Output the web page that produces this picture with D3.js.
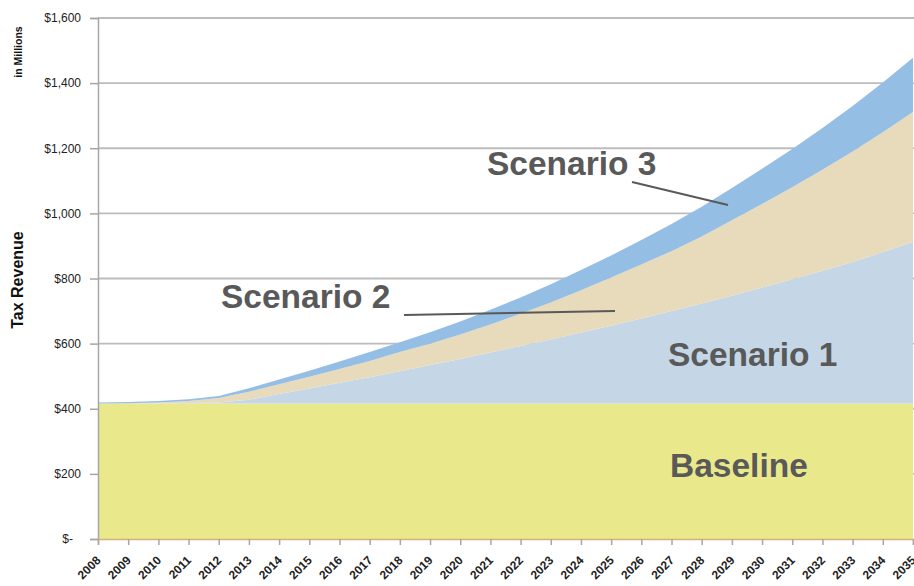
<!DOCTYPE html>
<html><head><meta charset="utf-8">
<script src="https://cdn.jsdelivr.net/npm/d3@7/dist/d3.min.js"></script>
<style>
html,body{margin:0;padding:0;background:#fff;}
svg{display:block;}
</style></head>
<body>
<svg id="chart" width="914" height="586"></svg>
<script>
const years = d3.range(2008, 2036);
const baseline = [416,416,416,416,416,416,416,416,416,416,416,416,416,416,416,416,416,416,416,416,416,416,416,416,416,416,416,416];
const scenario1 = [0,0,1,2,3,12,29,46,64,81,99,118,137,157,177,197,218,239,261,284,307,331,356,382,408,435,465,496];
const scenario2 = [0,1,2,6,14,24,30,36,42,50,59,66,75,86,99,113,130,148,166,184,206,232,257,282,310,339,368,399];
const scenario3 = [3,4,5,5,6,11,15,19,23,27,30,35,40,45,50,56,62,68,75,83,91,99,108,118,128,140,153,167];
const yTicks = [0,200,400,600,800,1000,1200,1400,1600];
const seriesKeys = ["Baseline","Scenario 1","Scenario 2","Scenario 3"];
const colors = ["#e9e88b","#c5d7e7","#e8dbbc","#95bee5"];

const rows = years.map((y,i)=>({year:y,"Baseline":baseline[i],"Scenario 1":scenario1[i],"Scenario 2":scenario2[i],"Scenario 3":scenario3[i]}));

const svg = d3.select("#chart");
const x = d3.scaleLinear().domain([2008,2035]).range([98,913]);
const y = d3.scaleLinear().domain([0,1600]).range([539,18]);

// gridlines
svg.append("g").selectAll("line").data(yTicks.filter(d=>d>0)).join("line")
  .attr("x1",98).attr("x2",914).attr("y1",d=>y(d)).attr("y2",d=>y(d))
  .attr("stroke","#bcbcbc").attr("stroke-width",1.8);

const stack = d3.stack().keys(seriesKeys)(rows);
const area = d3.area().x(d=>x(d.data.year)).y0(d=>y(d[0])).y1(d=>y(d[1]));
svg.append("g").selectAll("path").data(stack).join("path")
  .attr("d",area).attr("fill",(d,i)=>colors[i]);

// y axis
const yAxis = d3.axisLeft(y).tickValues(yTicks).tickSize(8).tickPadding(9)
  .tickFormat(v=> v===0 ? "$-" : "$"+d3.format(",")(v));
const gy = svg.append("g").attr("transform","translate(98,0)").call(yAxis);
gy.select(".domain").attr("stroke","#a6a6a6").attr("stroke-width",1.5);
gy.selectAll(".tick line").attr("stroke","#a6a6a6").attr("stroke-width",1.5);
gy.selectAll(".tick text").attr("font-family","Liberation Sans, Arial, sans-serif")
  .attr("font-size",12).attr("fill","#222")
  .attr("dx",d=>d===0?-8:0);

// x axis
const xAxis = d3.axisBottom(x).tickValues(years).tickSize(6).tickFormat(d3.format("d"));
const gx = svg.append("g").attr("transform","translate(0,539)").call(xAxis);
gx.select(".domain").attr("stroke","#d2b27a").attr("stroke-width",1.5);
gx.selectAll(".tick line").attr("stroke","#a6a6a6").attr("stroke-width",1.5);
gx.selectAll(".tick text").attr("font-family","Liberation Sans, Arial, sans-serif")
  .attr("font-size",12).attr("font-weight","bold").attr("fill","#222")
  .attr("text-anchor","end").attr("x",0).attr("y",0).attr("dy",0)
  .attr("transform","translate(3,22) rotate(-45)");

// axis titles
svg.append("text").attr("transform","translate(22,52) rotate(-90)")
  .attr("text-anchor","middle").attr("font-family","Liberation Sans, Arial, sans-serif")
  .attr("font-size",10.5).attr("font-weight","bold").attr("fill","#111").text("in Millions");
svg.append("text").attr("transform","translate(23,280) rotate(-90)")
  .attr("text-anchor","middle").attr("font-family","Liberation Sans, Arial, sans-serif")
  .attr("font-size",16).attr("font-weight","bold").attr("fill","#111").text("Tax Revenue");

// annotations
const ann = [
  {t:"Scenario 3", x:487, y:175},
  {t:"Scenario 2", x:221, y:308},
  {t:"Scenario 1", x:668, y:366},
  {t:"Baseline", x:670, y:477}
];
svg.append("g").selectAll("text").data(ann).join("text")
  .attr("x",d=>d.x).attr("y",d=>d.y)
  .attr("font-family","Liberation Sans, Arial, sans-serif")
  .attr("font-size",33.5).attr("font-weight","bold").attr("fill","#595959")
  .text(d=>d.t);

const pointers = [
  {x1:632,y1:182,x2:728,y2:205},
  {x1:404,y1:315,x2:615,y2:311}
];
svg.append("g").selectAll("line").data(pointers).join("line")
  .attr("x1",d=>d.x1).attr("y1",d=>d.y1).attr("x2",d=>d.x2).attr("y2",d=>d.y2)
  .attr("stroke","#595959").attr("stroke-width",2);
</script>
</body></html>
